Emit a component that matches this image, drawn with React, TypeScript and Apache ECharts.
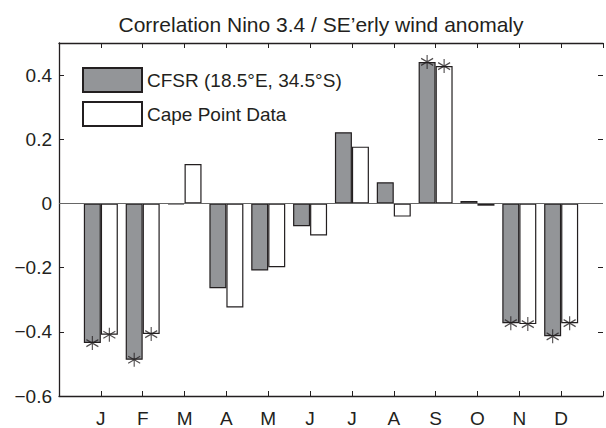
import React, { useEffect, useRef } from 'react';
import * as echarts from 'echarts';

const months = ['J', 'F', 'M', 'A', 'M', 'J', 'J', 'A', 'S', 'O', 'N', 'D'];
const cfsr = [-0.435, -0.487, -0.003, -0.264, -0.209, -0.071, 0.222, 0.066, 0.441, 0.008, -0.373, -0.414];
const capePoint = [-0.409, -0.407, 0.123, -0.324, -0.199, -0.1, 0.177, -0.041, 0.428, -0.007, -0.376, -0.373];
const cfsrSignificant = [true, true, false, false, false, false, false, false, true, false, true, true];
const capeSignificant = [true, true, false, false, false, false, false, false, true, false, true, true];
const yTicks = [-0.6, -0.4, -0.2, 0, 0.2, 0.4];

const FONT = "'Liberation Sans', Arial, Helvetica, sans-serif";
const INK = '#231f20';
const BAR_W = 17;
const ASTERISK = 'path://M0,-10 L0,10 M-8.66,-5 L8.66,5 M-8.66,5 L8.66,-5';

export default function App() {
  const ref = useRef<HTMLDivElement>(null);
  useEffect(() => {
    if (!ref.current) return;
    const chart = echarts.init(ref.current, null, { renderer: 'svg' });
    const yLabel = (v: number) => {
      const hit = yTicks.find((t) => Math.abs(t - v) < 1e-6);
      if (hit === undefined) return '';
      return hit === 0 ? '0' : hit.toFixed(1).replace('-', '\u2212');
    };
    const xLabel = (v: number) => months[Math.round(v) - 1] ?? '';
    const sig = (vals: number[], flags: boolean[]) =>
      vals.map((v, i) => (flags[i] ? [i + 1, v] : null)).filter((d) => d !== null);
    const frameLine = { show: true, onZero: false, lineStyle: { color: INK, width: 1.3 } };
    const frameTick = { show: true, inside: true, length: 5, lineStyle: { color: INK, width: 1 } };
    chart.setOption({
      animation: false,
      backgroundColor: '#ffffff',
      textStyle: { fontFamily: FONT, color: INK },
      title: {
        text: 'Correlation Nino 3.4 / SE\u2019erly wind anomaly',
        left: 316,
        textAlign: 'center',
        top: 9,
        textStyle: { fontFamily: FONT, fontSize: 21, fontWeight: 'normal', color: INK },
      },
      legend: {
        orient: 'vertical',
        left: 77,
        top: 62,
        itemWidth: 59,
        itemHeight: 24,
        itemGap: 8,
        icon: 'rect',
        data: ['CFSR (18.5°E, 34.5°S)', 'Cape Point Data'],
        textStyle: { fontFamily: FONT, fontSize: 19, color: INK },
      },
      grid: { left: 59, right: -1, top: 43, bottom: 29 },
      xAxis: [
        {
          type: 'value',
          min: 0,
          max: 13,
          interval: 1,
          position: 'bottom',
          splitLine: { show: false },
          axisLine: frameLine,
          axisTick: frameTick,
          axisLabel: { formatter: xLabel, fontSize: 19, color: INK, fontFamily: FONT, margin: 13 },
        },
        {
          type: 'value',
          min: 0,
          max: 13,
          interval: 1,
          position: 'top',
          splitLine: { show: false },
          axisLine: frameLine,
          axisTick: frameTick,
          axisLabel: { show: false },
        },
      ],
      yAxis: [
        {
          type: 'value',
          min: -0.6,
          max: 0.5,
          interval: 0.2,
          position: 'left',
          splitLine: { show: false },
          axisLine: frameLine,
          axisTick: frameTick,
          axisLabel: { formatter: yLabel, fontSize: 19, color: INK, fontFamily: FONT, margin: 7 },
        },
        {
          type: 'value',
          min: -0.6,
          max: 0.5,
          interval: 0.2,
          position: 'right',
          splitLine: { show: false },
          axisLine: { show: false, onZero: false },
          axisTick: frameTick,
          axisLabel: { show: false },
        },
      ],
      series: [
        {
          name: 'CFSR (18.5°E, 34.5°S)',
          type: 'bar',
          xAxisIndex: 0,
          yAxisIndex: 0,
          barWidth: BAR_W,
          barGap: '0%',
          data: cfsr.map((v, i) => [i + 1, v]),
          itemStyle: { color: '#939598', borderColor: INK, borderWidth: 1.2 },
          markLine: {
            silent: true,
            symbol: 'none',
            label: { show: false },
            lineStyle: { color: '#666666', width: 1, type: 'solid' },
            data: [{ yAxis: 0 }],
          },
          z: 3,
        },
        {
          name: 'Cape Point Data',
          type: 'bar',
          xAxisIndex: 0,
          yAxisIndex: 0,
          barWidth: BAR_W,
          barGap: '0%',
          data: capePoint.map((v, i) => [i + 1, v]),
          itemStyle: { color: '#ffffff', borderColor: INK, borderWidth: 1.2 },
          z: 3,
        },
        {
          name: 'cfsrSig',
          type: 'scatter',
          xAxisIndex: 0,
          yAxisIndex: 0,
          symbol: ASTERISK,
          symbolSize: [12, 14],
          symbolOffset: [-BAR_W / 2, 0],
          data: sig(cfsr, cfsrSignificant),
          itemStyle: { color: 'none', borderColor: INK, borderWidth: 1.2 },
          z: 5,
        },
        {
          name: 'capeSig',
          type: 'scatter',
          xAxisIndex: 0,
          yAxisIndex: 0,
          symbol: ASTERISK,
          symbolSize: [12, 14],
          symbolOffset: [BAR_W / 2, 0],
          data: sig(capePoint, capeSignificant),
          itemStyle: { color: 'none', borderColor: INK, borderWidth: 1.2 },
          z: 5,
        },
      ],
    });
    return () => chart.dispose();
  }, []);
  return (
    <div
      ref={ref}
      style={{ position: 'absolute', left: 0, top: 0, width: 606, height: 428 }}
    />
  );
}
